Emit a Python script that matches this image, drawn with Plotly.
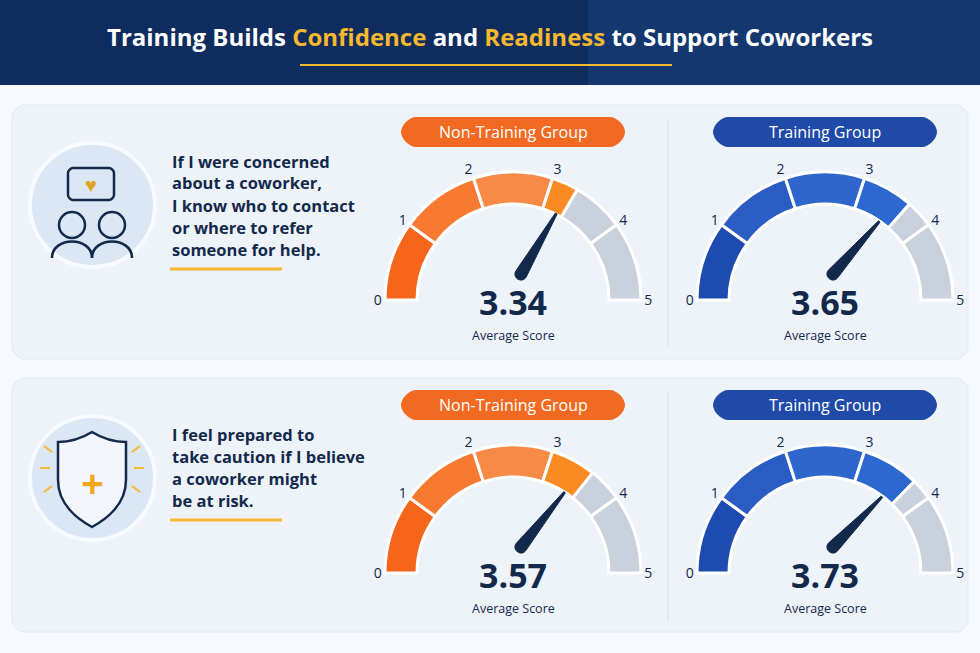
import math
import plotly.graph_objects as go

W, H = 980, 653

statements = [
    ["If I were concerned", "about a coworker,", "I know who to contact", "or where to refer", "someone for help."],
    ["I feel prepared to", "take caution if I believe", "a coworker might", "be at risk."],
]
groups = ["Non-Training Group", "Training Group"]
scores = [[3.34, 3.65], [3.57, 3.73]]
tick_vals = [0, 1, 2, 3, 4, 5]

NAVY = "#13294B"
GOLD = "#F5B82E"
GREY = "#C8D1DC"
FONT = "Open Sans"
pal = {
    "Non-Training Group": {"pill": "#F26A21", "segs": ["#F5651A", "#F77A30", "#F88A48"], "part": "#FA8B22"},
    "Training Group": {"pill": "#1F4AA8", "segs": ["#1D4BB0", "#2A5CC4", "#2E66CC"], "part": "#2D68D0"},
}

def px(x):
    return x / W

def py(y):
    return 1 - y / H

def rrect(x0, y0, x1, y1, r):
    k = 0.45 * r
    pts = [
        f"M{px(x0 + r)},{py(y0)}", f"L{px(x1 - r)},{py(y0)}",
        f"C{px(x1 - r + k)},{py(y0)} {px(x1)},{py(y0 + r - k)} {px(x1)},{py(y0 + r)}",
        f"L{px(x1)},{py(y1 - r)}",
        f"C{px(x1)},{py(y1 - r + k)} {px(x1 - r + k)},{py(y1)} {px(x1 - r)},{py(y1)}",
        f"L{px(x0 + r)},{py(y1)}",
        f"C{px(x0 + r - k)},{py(y1)} {px(x0)},{py(y1 - r + k)} {px(x0)},{py(y1 - r)}",
        f"L{px(x0)},{py(y0 + r)}",
        f"C{px(x0)},{py(y0 + r - k)} {px(x0 + r - k)},{py(y0)} {px(x0 + r)},{py(y0)} Z",
    ]
    return " ".join(pts)

def text(x, y, t, size, color=NAVY, xanchor="center", **kw):
    return dict(x=px(x), y=py(y), xref="paper", yref="paper", showarrow=False, text=t,
                xanchor=xanchor, yanchor="middle", font=dict(size=size, color=color, family=FONT), **kw)

fig = go.Figure()
shapes, annos = [], []

# header
shapes.append(dict(type="rect", xref="paper", yref="paper", x0=0, x1=1, y0=py(85), y1=1,
                   fillcolor="#0F2C5E", line_width=0, layer="below"))
shapes.append(dict(type="rect", xref="paper", yref="paper", x0=0.6, x1=1, y0=py(85), y1=1,
                   fillcolor="#1A4585", opacity=0.45, line_width=0, layer="below"))
annos.append(text(490, 37, "<b>Training Builds <span style='color:#F5B82E'>Confidence</span> and "
                           "<span style='color:#F5B82E'>Readiness</span> to Support Coworkers</b>", 24, "white"))
shapes.append(dict(type="line", xref="paper", yref="paper", x0=px(300), x1=px(672),
                   y0=py(65), y1=py(65), line=dict(color=GOLD, width=2)))

panel_tops = [105, 378]
gauge_cx = [513, 825]
for r, top in enumerate(panel_tops):
    shapes.append(dict(type="path", xref="paper", yref="paper", path=rrect(12, top, 968, top + 254, 12),
                       fillcolor="#EEF3FA", line=dict(color="#E2E9F3", width=1), layer="below"))
    shapes.append(dict(type="line", xref="paper", yref="paper", x0=px(668), x1=px(668),
                       y0=py(top + 14), y1=py(top + 242), line=dict(color="#D3DCE8", width=1)))
    # icon circle
    icy = top + 100
    shapes.append(dict(type="circle", xref="paper", yref="paper", x0=px(30), x1=px(155),
                       y0=py(icy - 62), y1=py(icy + 62), fillcolor="#DCE7F5",
                       line=dict(color="#F7FAFE", width=4)))
    if r == 0:
        shapes.append(dict(type="path", xref="paper", yref="paper",
                           path=rrect(68, 168, 114, 200, 5), line=dict(color=NAVY, width=2.5)))
        for cx in (72, 112):
            shapes.append(dict(type="circle", xref="paper", yref="paper", x0=px(cx - 13), x1=px(cx + 13),
                               y0=py(212), y1=py(238), line=dict(color=NAVY, width=2.5)))
            shapes.append(dict(type="path", xref="paper", yref="paper", line=dict(color=NAVY, width=2.5),
                               path=f"M{px(cx-20)},{py(258)} C{px(cx-20)},{py(236)} {px(cx+20)},{py(236)} {px(cx+20)},{py(258)}"))
        annos.append(text(91, 184, "♥", 20, "#E0A422"))
    else:
        shapes.append(dict(type="path", xref="paper", yref="paper", line=dict(color=NAVY, width=2.5),
                           fillcolor="#F3F7FD",
                           path=f"M{px(92)},{py(432)} C{px(105)},{py(440)} {px(118)},{py(442)} {px(126)},{py(442)} "
                                f"L{px(126)},{py(480)} C{px(126)},{py(505)} {px(105)},{py(520)} {px(92)},{py(527)} "
                                f"C{px(79)},{py(520)} {px(58)},{py(505)} {px(58)},{py(480)} L{px(58)},{py(442)} "
                                f"C{px(66)},{py(442)} {px(79)},{py(440)} {px(92)},{py(432)} Z"))
        annos.append(text(92, 482, "<b>+</b>", 40, "#F2A81D"))
        for x0, y0, x1, y1 in [(40, 468, 50, 468), (134, 468, 144, 468), (44, 446, 52, 452),
                               (140, 446, 132, 452), (44, 492, 52, 486), (140, 492, 132, 486)]:
            shapes.append(dict(type="line", xref="paper", yref="paper", x0=px(x0), x1=px(x1),
                               y0=py(y0), y1=py(y1), line=dict(color=GOLD, width=2)))
    lines = statements[r]
    ty = top + 56
    for i, t in enumerate(lines):
        annos.append(text(170, ty + i * 22, f"<b>{t}</b>", 16.5, xanchor="left"))
    ul = ty + (len(lines) - 1) * 22 + 20
    shapes.append(dict(type="line", xref="paper", yref="paper", x0=px(170), x1=px(282),
                       y0=py(ul), y1=py(ul), line=dict(color=GOLD, width=3)))

    for c, g in enumerate(groups):
        v = scores[r][c]
        p = pal[g]
        cx = gauge_cx[c]
        cy = top + 195
        rad = 128
        shapes.append(dict(type="path", xref="paper", yref="paper", path=rrect(cx - 112, top + 12, cx + 112, top + 42, 15),
                           fillcolor=p["pill"], line_width=0))
        annos.append(text(cx, top + 27, g, 16, "white"))
        steps = [dict(range=[i, i + 1], color=p["segs"][i], line=dict(color="white", width=3)) for i in range(3)]
        steps.append(dict(range=[3, v], color=p["part"], line=dict(color="white", width=3)))
        steps.append(dict(range=[v, 4], color=GREY, line=dict(color="white", width=3)))
        steps.append(dict(range=[4, 5], color=GREY, line=dict(color="white", width=3)))
        fig.add_trace(go.Indicator(
            mode="gauge", value=v,
            domain=dict(x=[px(cx - rad), px(cx + rad)], y=[py(cy), py(cy - rad)]),
            gauge=dict(axis=dict(range=[0, 5], tickvals=tick_vals, ticks="", tickwidth=0,
                                 tickfont=dict(size=14, color=NAVY, family=FONT)),
                       shape="angular", bar=dict(thickness=0, color="rgba(0,0,0,0)"),
                       bgcolor="rgba(0,0,0,0)", borderwidth=0, steps=steps)))
        # needle
        a = math.pi * (1 - v / 5)
        ux, uy = math.cos(a), -math.sin(a)
        nx, ny = -uy, ux
        bx, by = cx + 8, cy - 26
        tipx, tipy = bx + ux * 70, by + uy * 70
        shapes.append(dict(type="path", xref="paper", yref="paper", fillcolor=NAVY, line=dict(color=NAVY, width=1),
                           path=f"M{px(bx + nx*6)},{py(by + ny*6)} L{px(tipx + nx*1)},{py(tipy + ny*1)} "
                                f"L{px(tipx - nx*1)},{py(tipy - ny*1)} L{px(bx - nx*6)},{py(by - ny*6)} "
                                f"C{px(bx - nx*6 - ux*8)},{py(by - ny*6 - uy*8)} {px(bx + nx*6 - ux*8)},{py(by + ny*6 - uy*8)} "
                                f"{px(bx + nx*6)},{py(by + ny*6)} Z"))
        annos.append(text(cx, cy + 2, f"<b>{v:.2f}</b>", 34))
        annos.append(text(cx, cy + 35, "Average Score", 12.5))

fig.update_layout(width=W, height=H, margin=dict(l=0, r=0, t=0, b=0),
                  paper_bgcolor="#F6F9FD", plot_bgcolor="#F6F9FD",
                  shapes=shapes, annotations=annos, showlegend=False)
fig.write_html("out.html", config={"displayModeBar": False},
               post_script="document.body.style.margin='0';")
